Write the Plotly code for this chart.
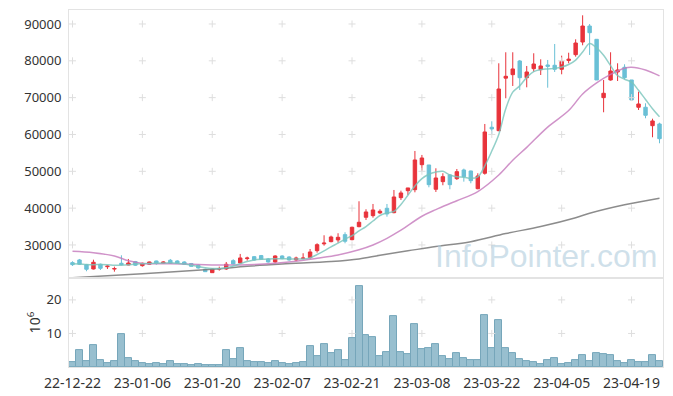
import plotly.graph_objects as go

dates = [
    "22-12-22", "22-12-23", "22-12-26", "22-12-27", "22-12-28", "22-12-29",
    "23-01-02", "23-01-03", "23-01-04", "23-01-05", "23-01-06", "23-01-09",
    "23-01-10", "23-01-11", "23-01-12", "23-01-13", "23-01-16", "23-01-17",
    "23-01-18", "23-01-19", "23-01-20", "23-01-25", "23-01-26", "23-01-27",
    "23-01-30", "23-01-31", "23-02-01", "23-02-02", "23-02-03", "23-02-06",
    "23-02-07", "23-02-08", "23-02-09", "23-02-10", "23-02-13", "23-02-14",
    "23-02-15", "23-02-16", "23-02-17", "23-02-20", "23-02-21", "23-02-22",
    "23-02-23", "23-02-24", "23-02-27", "23-02-28", "23-03-02", "23-03-03",
    "23-03-06", "23-03-07", "23-03-08", "23-03-09", "23-03-10", "23-03-13",
    "23-03-14", "23-03-15", "23-03-16", "23-03-17", "23-03-20", "23-03-21",
    "23-03-22", "23-03-23", "23-03-24", "23-03-27", "23-03-28", "23-03-29",
    "23-03-30", "23-03-31", "23-04-03", "23-04-04", "23-04-05", "23-04-06",
    "23-04-07", "23-04-10", "23-04-11", "23-04-12", "23-04-13", "23-04-14",
    "23-04-17", "23-04-18", "23-04-19", "23-04-20", "23-04-21", "23-04-24",
    "23-04-25",
]

opens = [
    25200, 25930, 24650, 23480, 24760, 24100, 23450, 25030, 24570, 25470,
    24380, 24770, 25650, 25020, 25840, 25650, 25380, 24950, 24490, 23400,
    22480, 23450, 23480, 25740, 25110, 26300, 26820, 27110, 26200, 25380,
    27010, 26740, 25930, 26300, 26550, 28450, 30300, 30900, 31360, 32800,
    31440, 34970, 37520, 37960, 38690, 39960, 38770, 42840, 44740, 45010,
    51800, 51720, 45120, 47190, 49010, 48000, 50360, 50090, 45280, 49470,
    61960, 61030, 75300, 76240, 79960, 75420, 77870, 77600, 78870, 78790,
    77700, 80100, 81670, 85110, 89450, 85840, 70000, 74800, 76970, 78250,
    74800, 67390, 67390, 62390, 62850,
]
highs = [
    25570, 26200, 24840, 26000, 24930, 24490, 24110, 27200, 26200, 25660,
    25200, 25470, 25740, 25570, 26200, 25840, 25570, 25110, 24650, 23570,
    23670, 24110, 25380, 26120, 27560, 26820, 27010, 27290, 26470, 27200,
    27200, 26930, 26820, 27750, 28900, 30460, 32630, 32530, 33180, 33450,
    34970, 41860, 39690, 41130, 39690, 41130, 44930, 44740, 45480, 55520,
    54440, 51720, 50820, 49470, 49190, 50630, 50720, 50170, 49470, 62850,
    63580, 79330, 82320, 82320, 80230, 78600, 82050, 80410, 80230, 84570,
    81400, 82200, 85840, 92360, 90000, 85840, 74800, 82320, 79330, 79060,
    74800, 71620, 68470, 64290, 63200,
]
lows = [
    24300, 24600, 22860, 23350, 23210, 23480, 22750, 24490, 24490, 24300,
    24110, 24650, 24650, 24840, 24840, 24930, 24570, 24110, 23570, 22670,
    22400, 23020, 23210, 24760, 25030, 25740, 25740, 25930, 25200, 25200,
    26120, 25740, 25660, 26120, 26280, 27910, 29810, 30730, 30620, 30460,
    31270, 34800, 36790, 37410, 38420, 37680, 38600, 42220, 43580, 44300,
    50170, 45660, 44390, 46210, 45120, 47650, 47190, 46750, 45120, 49090,
    60140, 60900, 69830, 73170, 72080, 72810, 77050, 76150, 72700, 76970,
    76340, 79330, 81120, 84220, 81590, 74800, 66030, 74610, 74520, 74990,
    69180, 66650, 64400, 59240, 57610,
]
closes = [
    24650, 24770, 23400, 25300, 23670, 24250, 23600, 24650, 25110, 24490,
    25030, 25380, 24940, 25380, 25030, 25030, 24770, 24200, 23760, 22750,
    23480, 23600, 24760, 24840, 26470, 26450, 25930, 26120, 25380, 27010,
    26290, 25930, 26470, 26450, 28100, 30080, 30500, 32170, 32080, 31000,
    34800, 36160, 38960, 39500, 39150, 38420, 43030, 44120, 45480, 53080,
    53620, 46370, 48190, 48540, 46370, 49900, 48540, 47460, 48730, 60680,
    61500, 72350, 75800, 77790, 75420, 76970, 79140, 78600, 78500, 77700,
    79870, 80450, 84840, 89450, 87640, 74800, 71190, 77240, 77510, 75420,
    69370, 68280, 65210, 63670, 58860,
]
# volume in millions of shares
volumes = [
    1.6, 5.1, 1.9, 6.6, 2.1, 1.2, 1.9, 9.9, 2.7, 1.9,
    1.2, 0.9, 1.2, 0.9, 1.9, 0.9, 0.9, 0.6, 0.9, 0.6,
    0.6, 0.6, 4.9, 2.4, 5.7, 1.9, 1.6, 1.6, 1.2, 1.9,
    1.2, 0.9, 1.2, 1.6, 6.3, 3.3, 6.9, 4.2, 5.1, 2.2,
    8.7, 24.1, 9.6, 9.0, 3.3, 4.3, 15.3, 4.3, 3.7, 12.9,
    5.2, 5.5, 6.7, 3.1, 2.5, 4.0, 2.8, 2.2, 2.2, 15.6,
    5.5, 14.1, 5.5, 4.0, 2.5, 1.9, 1.6, 1.0, 2.2, 2.8,
    1.0, 1.3, 2.2, 3.4, 1.9, 4.0, 3.7, 3.4, 1.9, 1.3,
    2.2, 1.6, 1.6, 3.4, 1.9,
]

# short moving average
ma_short = [
    24900, 24850, 24700, 24650, 24700, 24650, 24500, 24500, 24600, 24800,
    24900, 25000, 25050, 25100, 25150, 25050, 24800, 24500, 24150, 23800,
    23600, 23600, 23800, 24300, 24900, 25500, 25900, 26100, 26200, 26250,
    26250, 26200, 26200, 26200, 26500, 27400, 28400, 29500, 30500, 31600,
    32500, 33800, 35000, 36500, 38000, 38700, 39100, 41000, 43500, 46000,
    48000, 49200, 49800, 50000, 49000, 48500, 48400, 48100, 48500, 51500,
    55500, 60000, 67000, 71500, 73200, 75500, 77050, 77600, 77800, 77950,
    78300, 79000, 80200, 82400, 84700, 83500, 81500, 78700, 76000, 75000,
    74200, 72000, 69500, 67000, 64800,
]
# medium moving average (at selected days)
ma_mid_idx = [0, 3, 6, 8, 10, 14, 18, 22, 26, 29, 32, 35, 38, 41, 43, 45, 47,
              50, 52, 55, 58, 61, 63, 65, 68, 71, 73, 75, 77, 79, 80, 82, 84]
ma_mid_val = [28300, 27900, 27000, 25700, 25000, 24900, 24700, 24550, 24700,
              25050, 25600, 26400, 27300, 28700, 30000, 31800, 34000, 37800,
              39600, 42000, 44500, 49000, 53000, 56500, 62000, 66500, 71000,
              74000, 76300, 78000, 78250, 77500, 75900]
# long moving average (at selected days)
ma_long_idx = [0, 10, 20, 25, 30, 37, 41, 44, 48, 52, 57, 62, 67, 72, 74, 79, 84]
ma_long_val = [21100, 22200, 23400, 24200, 24800, 25500, 26200, 27200, 28400,
               29600, 30900, 33100, 35000, 37400, 38600, 40900, 42700]

price_ticks = [30000, 40000, 50000, 60000, 70000, 80000, 90000]
volume_ticks = [10, 20]
tick_dates = dates[::10]

UP = "#e8333b"
DOWN = "#6ac0d6"
GRID = "#dedede"
AXIS = "#e3e3e3"

fig = go.Figure()

fig.add_trace(go.Candlestick(
    x=dates, open=opens, high=highs, low=lows, close=closes,
    xaxis="x", yaxis="y",
    increasing=dict(fillcolor=UP, line=dict(color=UP, width=1)),
    decreasing=dict(fillcolor=DOWN, line=dict(color=DOWN, width=1)),
    whiskerwidth=0, hoverinfo="skip", showlegend=False))

fig.add_trace(go.Bar(x=dates, y=volumes, xaxis="x2", yaxis="y2",
                     marker=dict(color="#98bfcf", line=dict(color="#76a6ba", width=1)),
                     hoverinfo="skip", showlegend=False))

# grid crosses at tick intersections
gx, gy = [], []
for d in tick_dates:
    for p in price_ticks:
        gx.append(d)
        gy.append(p)
fig.add_trace(go.Scatter(x=gx, y=gy, mode="markers", xaxis="x", yaxis="y",
                         marker=dict(symbol="cross-thin", size=5,
                                     line=dict(width=1, color=GRID)),
                         hoverinfo="skip", showlegend=False))
vx, vy = [], []
for d in tick_dates:
    for v in volume_ticks:
        vx.append(d)
        vy.append(v)
fig.add_trace(go.Scatter(x=vx, y=vy, mode="markers", xaxis="x2", yaxis="y2",
                         marker=dict(symbol="cross-thin", size=5,
                                     line=dict(width=1, color=GRID)),
                         hoverinfo="skip", showlegend=False))

fig.add_trace(go.Scatter(x=[dates[i] for i in ma_long_idx], y=ma_long_val,
                         mode="lines", xaxis="x", yaxis="y",
                         line=dict(color="rgba(120,120,120,0.85)", width=1.5, shape="spline"),
                         hoverinfo="skip", showlegend=False))
fig.add_trace(go.Scatter(x=[dates[i] for i in ma_mid_idx], y=ma_mid_val,
                         mode="lines", xaxis="x", yaxis="y",
                         line=dict(color="rgba(196,120,188,0.8)", width=1.5, shape="spline"),
                         hoverinfo="skip", showlegend=False))
fig.add_trace(go.Scatter(x=dates, y=ma_short,
                         mode="lines", xaxis="x", yaxis="y",
                         line=dict(color="rgba(120,196,188,0.8)", width=1.5, shape="spline"),
                         hoverinfo="skip", showlegend=False))

fig.add_annotation(text="InfoPointer.com", xref="paper", yref="paper",
                   x=0.803, y=0.311, xanchor="center", yanchor="middle",
                   showarrow=False,
                   font=dict(family="Liberation Sans", size=32, color="rgba(175,204,220,0.6)"))

FONT = "Noto Sans"
fig.update_layout(
    width=673, height=396,
    margin=dict(l=69, r=10, t=10, b=29),
    paper_bgcolor="white", plot_bgcolor="white",
    bargap=0, boxgap=0.3,
    font=dict(family=FONT, size=13, color="#333333"),
    xaxis=dict(type="category", categoryorder="array", categoryarray=dates,
               domain=[0, 1], anchor="y", range=[-0.5, 84.5],
               showticklabels=False, showgrid=False, zeroline=False,
               showline=True, linecolor=AXIS, linewidth=1, mirror=True,
               rangeslider=dict(visible=False), automargin=False),
    yaxis=dict(domain=[0.249, 1], anchor="x", range=[21000, 93800],
               tickvals=price_ticks, ticktext=[str(v) for v in price_ticks],
               showgrid=False, zeroline=False, automargin=False,
               showline=True, linecolor=AXIS, linewidth=1, mirror=True,
               ticks="outside", ticklen=4, tickcolor="white",
               tickfont=dict(family=FONT, size=13, color="#333333")),
    xaxis2=dict(type="category", categoryorder="array", categoryarray=dates,
                domain=[0, 1], anchor="y2", matches="x",
                range=[-0.5, 84.5], tickangle=0, automargin=False,
                tickvals=tick_dates, ticktext=tick_dates,
                showgrid=False, zeroline=False,
                showline=True, linecolor=AXIS, linewidth=1, mirror=True,
                ticks="outside", ticklen=3, tickcolor="white",
                tickfont=dict(family=FONT, size=14, color="#333333")),
    yaxis2=dict(domain=[0, 0.249], anchor="x2", range=[0, 26.5],
                tickvals=volume_ticks, ticktext=[str(v) for v in volume_ticks],
                showgrid=False, zeroline=False, automargin=False,
                showline=True, linecolor=AXIS, linewidth=1, mirror=True,
                ticks="outside", ticklen=4, tickcolor="white",
                title=dict(text="10<sup>6</sup>", standoff=2,
                           font=dict(family=FONT, size=14, color="#333333")),
                tickfont=dict(family=FONT, size=13, color="#333333")),
)

fig.write_html("out.html", config={"displayModeBar": False},
               post_script="document.body.style.margin='0';document.body.style.overflow='hidden';")
